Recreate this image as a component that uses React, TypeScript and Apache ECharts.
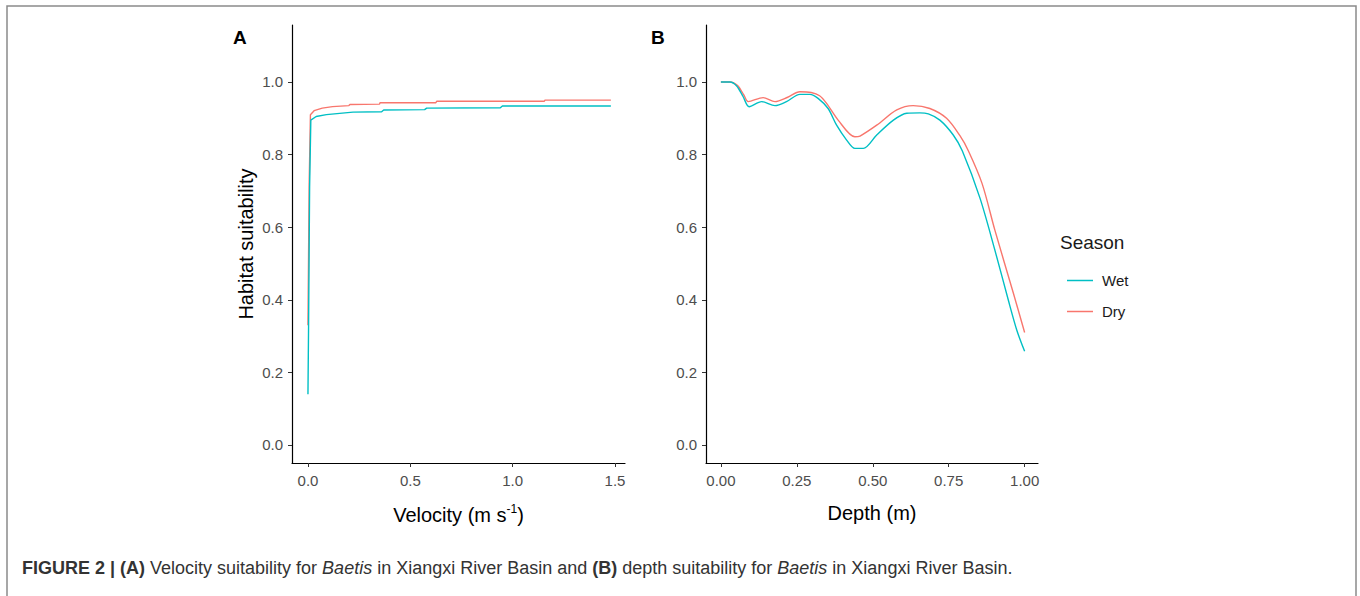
import React, { useEffect, useRef } from "react";
import * as echarts from "echarts";

const WET = "#00BFC4";
const DRY = "#F8766D";

// Panel A: velocity (m/s) vs habitat suitability
const velWet: [number, number][] = [
  [0.0, 0.14], [0.003, 0.33], [0.008, 0.71], [0.014, 0.895], [0.04, 0.905],
  [0.09, 0.91], [0.22, 0.917], [0.36, 0.918], [0.37, 0.923], [0.57, 0.924],
  [0.58, 0.928], [0.94, 0.929], [0.95, 0.934], [1.48, 0.934],
];
const velDry: [number, number][] = [
  [0.0, 0.33], [0.006, 0.72], [0.012, 0.91], [0.03, 0.921], [0.07, 0.928],
  [0.12, 0.932], [0.2, 0.935], [0.205, 0.938], [0.35, 0.939], [0.352, 0.943],
  [0.625, 0.943], [0.629, 0.947], [1.155, 0.947], [1.158, 0.95], [1.48, 0.95],
];

// Panel B: depth (m) vs habitat suitability
const depWet: [number, number][] = [
  [0, 1.0], [0.03, 1.0], [0.052, 0.989], [0.073, 0.96], [0.093, 0.932],
  [0.134, 0.946], [0.178, 0.935], [0.216, 0.946], [0.26, 0.966], [0.293, 0.966],
  [0.32, 0.955], [0.353, 0.927], [0.381, 0.881], [0.414, 0.84], [0.441, 0.817],
  [0.469, 0.817], [0.513, 0.854], [0.568, 0.895], [0.612, 0.914], [0.655, 0.915],
  [0.683, 0.912], [0.721, 0.895], [0.765, 0.854], [0.795, 0.81], [0.853, 0.68],
  [0.902, 0.537], [0.946, 0.4], [0.974, 0.317], [1.0, 0.258],
];
const depDry: [number, number][] = [
  [0, 1.0], [0.03, 1.0], [0.055, 0.99], [0.075, 0.965], [0.09, 0.946],
  [0.139, 0.957], [0.178, 0.946], [0.22, 0.958], [0.26, 0.973], [0.297, 0.971],
  [0.325, 0.962], [0.348, 0.941], [0.386, 0.895], [0.441, 0.849], [0.458, 0.851],
  [0.513, 0.881], [0.579, 0.923], [0.633, 0.935], [0.688, 0.927], [0.743, 0.9],
  [0.787, 0.852], [0.815, 0.81], [0.86, 0.72], [0.902, 0.592], [0.963, 0.418],
  [1.0, 0.31],
];

const yTicks = [0, 0.2, 0.4, 0.6, 0.8, 1.0];
const xTicksA = [0, 0.5, 1.0, 1.5];
const xTicksB = [0, 0.25, 0.5, 0.75, 1.0];
const seasons = ["Wet", "Dry"];

const FONT = "'Liberation Sans', Arial, sans-serif";
const TICK_COLOR = "#4D4D4D";

function yAxis(gridIndex: number, withName: boolean) {
  return {
    type: "value",
    gridIndex,
    min: -0.0496,
    max: 1.157,
    name: withName ? "Habitat suitability" : "",
    nameLocation: "middle",
    nameGap: 36,
    nameTextStyle: { fontFamily: FONT, fontSize: 20, color: "#000" },
    axisLine: { show: true, onZero: false, lineStyle: { color: "#000", width: 1.2 } },
    axisTick: { show: true, length: 4, lineStyle: { color: "#333" }, customValues: yTicks },
    axisLabel: {
      customValues: yTicks,
      margin: 9,
      fontFamily: FONT,
      fontSize: 15,
      color: TICK_COLOR,
      formatter: (v: number) => v.toFixed(1),
    },
    splitLine: { show: false },
  };
}

function xAxis(gridIndex: number, min: number, max: number, ticks: number[], digits: number, name: string) {
  return {
    type: "value",
    gridIndex,
    min,
    max,
    name,
    nameLocation: "middle",
    nameGap: 40,
    nameTextStyle: {
      fontFamily: FONT,
      fontSize: 20,
      color: "#000",
      rich: { sup: { fontFamily: FONT, fontSize: 12, color: "#000", verticalAlign: "top", padding: [0, 0, 12, 0] } },
    },
    axisLine: { show: true, onZero: false, lineStyle: { color: "#000", width: 1.2 } },
    axisTick: { show: true, length: 4, lineStyle: { color: "#333" }, customValues: ticks },
    axisLabel: {
      customValues: ticks,
      margin: 10,
      fontFamily: FONT,
      fontSize: 15,
      color: TICK_COLOR,
      formatter: (v: number) => v.toFixed(digits),
    },
    splitLine: { show: false },
  };
}

function lineSeries(name: string, data: [number, number][], idx: number, color: string, smooth: number | boolean) {
  return {
    type: "line",
    name,
    xAxisIndex: idx,
    yAxisIndex: idx,
    data,
    showSymbol: false,
    symbol: "none",
    smooth,
    lineStyle: { color, width: 1.4 },
    itemStyle: { color },
  };
}

export default function App() {
  const ref = useRef<HTMLDivElement>(null);
  useEffect(() => {
    if (!ref.current) return;
    const chart = echarts.init(ref.current, undefined, { renderer: "svg" });
    chart.setOption({
      animation: false,
      backgroundColor: "#fff",
      grid: [
        { left: 292, top: 25, width: 333, height: 438 },
        { left: 706, top: 25, width: 332, height: 438 },
      ],
      xAxis: [
        xAxis(0, -0.078, 1.549, xTicksA, 1, "Velocity (m s{sup|-1})"),
        xAxis(1, -0.049, 1.044, xTicksB, 2, "Depth (m)"),
      ],
      yAxis: [yAxis(0, true), yAxis(1, false)],
      legend: {
        data: seasons.map((s) => ({ name: s, icon: "rect" })),
        orient: "vertical",
        left: 1062,
        top: 268,
        itemWidth: 26,
        itemHeight: 1.5,
        itemGap: 16,
        selectedMode: false,
        textStyle: { fontFamily: FONT, fontSize: 15, color: "#1a1a1a", padding: [0, 0, 0, 4] },
      },
      series: [
        lineSeries("Dry", velDry, 0, DRY, false),
        lineSeries("Wet", velWet, 0, WET, false),
        lineSeries("Dry", depDry, 1, DRY, 0.3),
        lineSeries("Wet", depWet, 1, WET, 0.3),
      ],
      graphic: [
        {
          type: "rect",
          shape: { x: 7, y: 6, width: 1349, height: 640 },
          style: { fill: "none", stroke: "#8a8a8a", lineWidth: 1.5 },
          silent: true,
        },
        {
          type: "text",
          left: 233,
          top: 28,
          style: { text: "A", fontFamily: FONT, fontSize: 19, fontWeight: "bold", fill: "#000" },
        },
        {
          type: "text",
          left: 651,
          top: 28,
          style: { text: "B", fontFamily: FONT, fontSize: 19, fontWeight: "bold", fill: "#000" },
        },
        {
          type: "text",
          left: 1060,
          top: 233,
          style: { text: "Season", fontFamily: FONT, fontSize: 19, fill: "#1a1a1a" },
        },
        {
          type: "text",
          left: 22,
          top: 559,
          style: {
            text: "{b|FIGURE 2 | (A)} Velocity suitability for {i|Baetis} in Xiangxi River Basin and {b|(B)} depth suitability for {i|Baetis} in Xiangxi River Basin.",
            fontFamily: FONT,
            fontSize: 18,
            fill: "#333",
            rich: {
              b: { fontFamily: FONT, fontSize: 18, fontWeight: "bold", fill: "#333" },
              i: { fontFamily: FONT, fontSize: 18, fontStyle: "italic", fill: "#333" },
            },
          },
        },
      ],
    });
    return () => chart.dispose();
  }, []);
  return (
    <div
      ref={ref}
      style={{ position: "absolute", left: 0, top: 0, width: 1360, height: 596 }}
    />
  );
}
